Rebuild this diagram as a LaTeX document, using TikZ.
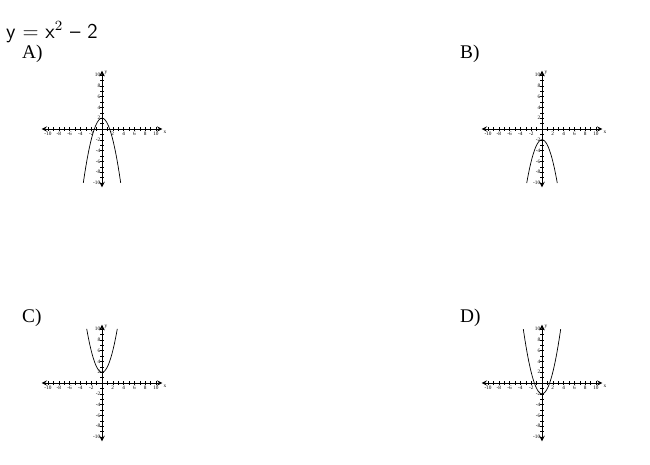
\documentclass[tikz,border=0pt]{standalone}
\usepackage{fontspec}
\setmainfont{Liberation Serif}
\newcommand\plotaxes{%
  \draw[axis] (-11.2,0) -- (11.2,0);
  \draw[axis] (0,-10.8) -- (0,10.8);
  \foreach \t in {-10,...,10} {
    \draw[very thin] (\t,-0.35) -- (\t,0.35);
    \draw[very thin] (-0.35,\t) -- (0.35,\t);
  }
  \foreach \t in {-10,-8,-6,-4,-2,2,4,6,8,10} {
    \node[ticklab,below=1.5pt] at (\t,0) {\t};
    \node[ticklab,left=0.8pt] at (0,\t) {\t};
  }
  \node[ticklab,right=0.5pt] at (11.2,-0.6) {x};
  \node[ticklab,right] at (0.4,10.4) {y};
}
\begin{document}
\begin{tikzpicture}[x=0.02cm,y=-0.02cm,
  axis/.style={thin,<->,>=stealth},
  ticklab/.style={font=\fontsize{3}{3.5}\selectfont,inner sep=0pt},
  curve/.style={thin},
  optlab/.style={anchor=west,font=\fontsize{11}{12}\selectfont}]
\useasboundingbox (0,0) rectangle (650,465);
\node[anchor=west,font=\sffamily\fontsize{12}{13}\selectfont] (eq) at (0,32) {y = x$^2$ -- 2};
\node[optlab] (la) at (16,54) {A)};
\node[optlab] (lb) at (454,54) {B)};
\node[optlab] (lc) at (16,318) {C)};
\node[optlab] (ld) at (454,318) {D)};
\begin{scope}[shift={(102,129)},x=0.108cm,y=0.108cm]
  \plotaxes
  \draw[curve,domain=-3.46:3.46,samples=60] plot (\x,{-\x*\x+2});
\end{scope}
\begin{scope}[shift={(542,129)},x=0.108cm,y=0.108cm]
  \plotaxes
  \draw[curve,domain=-2.83:2.83,samples=60] plot (\x,{-\x*\x-2});
\end{scope}
\begin{scope}[shift={(102,383)},x=0.108cm,y=0.108cm]
  \plotaxes
  \draw[curve,domain=-2.83:2.83,samples=60] plot (\x,{\x*\x+2});
\end{scope}
\begin{scope}[shift={(542,383)},x=0.108cm,y=0.108cm]
  \plotaxes
  \draw[curve,domain=-3.46:3.46,samples=60] plot (\x,{\x*\x-2});
\end{scope}
\end{tikzpicture}
\end{document}
